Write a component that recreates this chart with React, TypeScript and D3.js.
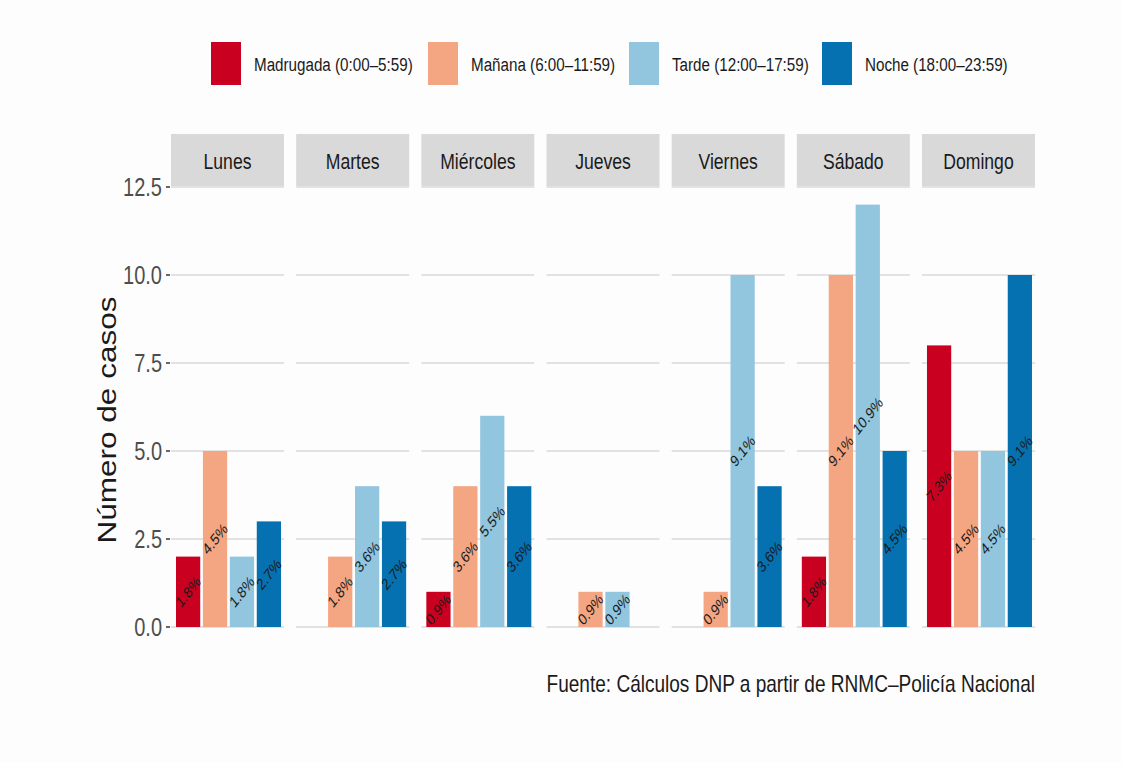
import React from "react";
import * as d3 from "d3";

const days = ["Lunes", "Martes", "Miércoles", "Jueves", "Viernes", "Sábado", "Domingo"];
const periods = [
  "Madrugada (0:00–5:59)",
  "Mañana (6:00–11:59)",
  "Tarde (12:00–17:59)",
  "Noche (18:00–23:59)",
];
const colors = ["#ca0020", "#f4a582", "#92c5de", "#0571b0"];
const madrugada = [2, 0, 1, 0, 0, 2, 8];
const manana = [5, 2, 4, 1, 1, 10, 5];
const tarde = [2, 4, 6, 1, 10, 12, 5];
const noche = [3, 3, 4, 0, 4, 5, 10];
const yTicks = [0, 2.5, 5, 7.5, 10, 12.5];
const yTitle = "Número de casos";
const caption = "Fuente: Cálculos DNP a partir de RNMC–Policía Nacional";

const series = [madrugada, manana, tarde, noche];
const total = d3.sum(series.flat());

const W = 1122;
const H = 763;
const SX = 0.8; // horizontal compression of text
const FONT = "'Liberation Sans', Arial, sans-serif";

export default function App() {
  const y = d3.scaleLinear().domain([0, 12.5]).range([627, 187]);
  const panel = d3.scaleBand<string>().domain(days).range([171, 1035]).paddingInner(0.097).paddingOuter(0);
  const bar = d3.scaleBand<string>().domain(periods).range([5, 110]).paddingInner(0.1);
  const pw = panel.bandwidth();

  const legendX = [211, 428, 629, 822];

  return (
    <div style={{ position: "absolute", left: 0, top: 0 }}>
      <svg width={W} height={H} style={{ display: "block", background: "#fdfdfd" }} fontFamily={FONT}>
        <rect x={0} y={0} width={W} height={H} fill="#fdfdfd" />
        {/* legend */}
        {periods.map((p, i) => (
          <g key={p}>
            <rect x={legendX[i]} y={42} width={30} height={43} fill={colors[i]} />
            <text
              transform={`translate(${legendX[i] + 43},71) scale(${SX},1)`}
              fontSize={19}
              fill="#1a1a1a"
            >
              {p}
            </text>
          </g>
        ))}

        {/* panels */}
        {days.map((d, di) => {
          const px = panel(d)!;
          return (
            <g key={d}>
              <rect x={px} y={134} width={pw} height={52} fill="#d9d9d9" />
              <text
                transform={`translate(${px + pw / 2},169) scale(${SX},1)`}
                textAnchor="middle"
                fontSize={22}
                fill="#1a1a1a"
              >
                {d}
              </text>
              {yTicks.map((t) => (
                <line key={t} x1={px} x2={px + pw} y1={y(t)} y2={y(t)} stroke="#e2e2e2" strokeWidth={2} />
              ))}
              {series.map((s, si) => {
                const v = s[di];
                if (!v) return null;
                const bx = px + bar(periods[si])!;
                return (
                  <rect
                    key={si}
                    x={bx}
                    y={y(v)}
                    width={bar.bandwidth()}
                    height={y(0) - y(v)}
                    fill={colors[si]}
                  />
                );
              })}
              {series.map((s, si) => {
                const v = s[di];
                if (!v) return null;
                const cx = px + bar(periods[si])! + bar.bandwidth() / 2;
                const cy = y(v / 2);
                return (
                  <text
                    key={"l" + si}
                    transform={`translate(${cx},${cy}) scale(${SX},1) rotate(-45)`}
                    textAnchor="middle"
                    dominantBaseline="central"
                    fontSize={16}
                    fill="#1a1a1a"
                  >
                    {((v / total) * 100).toFixed(1) + "%"}
                  </text>
                );
              })}
            </g>
          );
        })}

        {/* y axis */}
        {yTicks.map((t) => (
          <g key={t}>
            <line x1={166} x2={170} y1={y(t)} y2={y(t)} stroke="#333" strokeWidth={1.5} />
            <text
              transform={`translate(162,${y(t) + 9}) scale(${SX},1)`}
              textAnchor="end"
              fontSize={25}
              fill="#4d4d4d"
            >
              {t.toFixed(1)}
            </text>
          </g>
        ))}
        <text
          transform={`translate(116,420) scale(${SX},1) rotate(-90)`}
          textAnchor="middle"
          fontSize={31.5}
          fill="#1a1a1a"
        >
          {yTitle}
        </text>

        {/* caption */}
        <text
          transform={`translate(1035,692) scale(${SX},1)`}
          textAnchor="end"
          fontSize={23.8}
          fill="#1a1a1a"
        >
          {caption}
        </text>
      </svg>
    </div>
  );
}
